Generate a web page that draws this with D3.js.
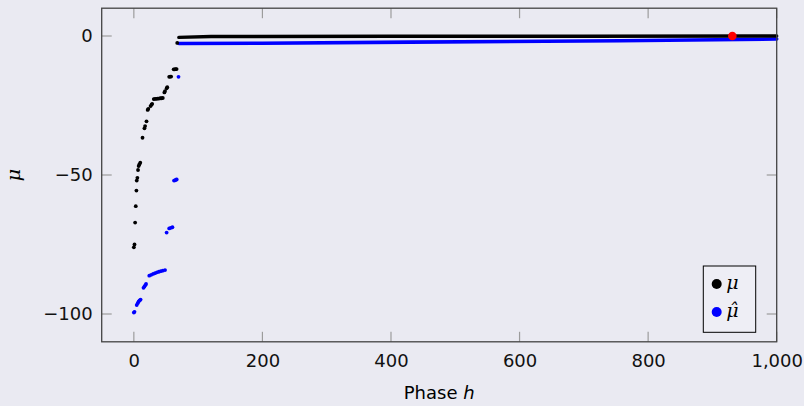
<!DOCTYPE html>
<html>
<head>
<meta charset="utf-8">
<script src="https://cdn.jsdelivr.net/npm/d3@7"></script>
<style>
  body { margin: 0; background: #eaeaf2; }
  svg { display: block; }
  .tick-label { font-family: "DejaVu Sans", sans-serif; font-size: 18px; fill: #111; }
</style>
</head>
<body>
<div id="chart"></div>
<script>
// mu (black) scatter, early phases
const muH   = [0, 1, 2, 3, 4, 4.5, 5.5, 6.5, 7.5, 8.5, 10, 13.5, 16.5, 17.5, 19.7, 21.5, 22.5, 26, 27.5, 28.5,
               31, 33, 35, 37, 39, 41, 43, 45, 47.5, 48.5, 51, 52, 55, 56.5, 58, 62, 63.5, 65, 66.5, 67.5];
const muVal = [-76, -75, -67.1, -61.2, -55.6, -52, -51, -48.2, -46.8, -46.2, -45.6, -36.6, -33.2, -32.4, -30.7, -26.6, -26.2, -25.2, -24.7, -24.4,
               -22.7, -22.6, -22.6, -22.5, -22.5, -22.4, -22.4, -22.3, -20.3, -19.8, -18.8, -18.4, -14.7, -14.6, -14.6, -12, -12, -11.9, -11.9, -2.5];

// mu-hat (blue) scatter, early phases
const muHatH   = [0, 1, 4.5, 6, 7.5, 9, 10.5, 15, 16.5, 18, 19, 24, 27, 30, 33, 36, 39, 42, 45, 48.5,
                  51, 55, 57.5, 60, 62.5, 64, 65.5, 66.7, 69.5];
const muHatVal = [-99.5, -99.2, -96.8, -96.1, -95.5, -95.1, -94.8, -90.6, -90.1, -89.6, -89.2, -86.2, -85.9, -85.6, -85.3, -85, -84.8, -84.6, -84.4, -84.2,
                  -70.7, -69.2, -69, -68.8, -52, -51.9, -51.7, -51.6, -14.7];

// dense later phases (drawn as a thick trace)
const muLineH      = [70, 120, 400, 700, 1000];
const muLineVal    = [-0.5, -0.2, -0.1, -0.1, 0];
const muHatLineH   = [70, 200, 430, 756, 1000];
const muHatLineVal = [-2.7, -2.6, -2.2, -1.7, -1.1];

const redPoint = [931, 0];

const xTicks = [0, 200, 400, 600, 800, 1000];
const yTicks = [-100, -50, 0];

const W = 804, H = 406;
const box = { left: 101.7, right: 776.7, top: 8.2, bottom: 341.8 };

const svg = d3.select('#chart').append('svg')
    .attr('width', W)
    .attr('height', H);

svg.append('rect').attr('width', W).attr('height', H).attr('fill', '#eaeaf2');

const x = d3.scaleLinear().domain([-50, 1000]).range([box.left, box.right]);
const y = d3.scaleLinear().domain([-110, 10]).range([box.bottom, box.top]);

const plotW = box.right - box.left;
const plotH = box.bottom - box.top;
const tickLen = 10;

// ticks on all four sides, pointing inward
const ticks = svg.append('g').attr('stroke', '#9c9c9c').attr('stroke-width', 1.2);
xTicks.forEach(t => {
    ticks.append('line').attr('x1', x(t)).attr('x2', x(t)).attr('y1', box.bottom).attr('y2', box.bottom - tickLen);
    ticks.append('line').attr('x1', x(t)).attr('x2', x(t)).attr('y1', box.top).attr('y2', box.top + tickLen);
});
yTicks.forEach(t => {
    ticks.append('line').attr('x1', box.left).attr('x2', box.left + tickLen).attr('y1', y(t)).attr('y2', y(t));
    ticks.append('line').attr('x1', box.right).attr('x2', box.right - tickLen).attr('y1', y(t)).attr('y2', y(t));
});

// tick labels via d3 axes, lines hidden
const fmtX = d3.format(',');
const fmtY = v => (v < 0 ? '\u2212' + Math.abs(v) : String(v));

const xAxis = svg.append('g')
    .attr('transform', `translate(0,${box.bottom})`)
    .call(d3.axisBottom(x).tickValues(xTicks).tickSize(0).tickPadding(12).tickFormat(fmtX));
xAxis.select('.domain').remove();
xAxis.selectAll('text').attr('class', 'tick-label').attr('font-size', null).attr('font-family', null);

const yAxis = svg.append('g')
    .attr('transform', `translate(${box.left},0)`)
    .call(d3.axisLeft(y).tickValues(yTicks).tickSize(0).tickPadding(9).tickFormat(fmtY));
yAxis.select('.domain').remove();
yAxis.selectAll('text').attr('class', 'tick-label').attr('font-size', null).attr('font-family', null);

// data
const g = svg.append('g');
const line = d3.line().x(d => x(d[0])).y(d => y(d[1]));

g.append('path')
    .datum(muHatLineH.map((h, i) => [h, muHatLineVal[i]]))
    .attr('d', line)
    .attr('fill', 'none')
    .attr('stroke', '#0000ff')
    .attr('stroke-width', 3.6)
    .attr('stroke-linecap', 'round');

g.append('path')
    .datum(muLineH.map((h, i) => [h, muLineVal[i]]))
    .attr('d', line)
    .attr('fill', 'none')
    .attr('stroke', '#000')
    .attr('stroke-width', 3.4)
    .attr('stroke-linecap', 'round');

g.selectAll('.mu-hat')
    .data(muHatH.map((h, i) => [h, muHatVal[i]]))
    .enter()
    .append('circle')
    .attr('class', 'mu-hat')
    .attr('cx', d => x(d[0]))
    .attr('cy', d => y(d[1]))
    .attr('r', 1.9)
    .attr('fill', '#0000ff');

g.selectAll('.mu')
    .data(muH.map((h, i) => [h, muVal[i]]))
    .enter()
    .append('circle')
    .attr('class', 'mu')
    .attr('cx', d => x(d[0]))
    .attr('cy', d => y(d[1]))
    .attr('r', 1.9)
    .attr('fill', '#000');

g.append('circle')
    .attr('cx', x(redPoint[0]))
    .attr('cy', y(redPoint[1]))
    .attr('r', 4.3)
    .attr('fill', '#ff0000');

// frame
svg.append('rect')
    .attr('x', box.left).attr('y', box.top)
    .attr('width', plotW).attr('height', plotH)
    .attr('fill', 'none')
    .attr('stroke', '#444')
    .attr('stroke-width', 1.3);

// axis titles
svg.append('text')
    .attr('transform', `translate(20,${(box.top + box.bottom) / 2}) rotate(-90)`)
    .attr('text-anchor', 'middle')
    .style('font-family', '"DejaVu Serif", serif')
    .style('font-style', 'italic')
    .style('font-size', '19px')
    .text('\u03bc');

const xt = svg.append('text')
    .attr('x', (box.left + box.right) / 2)
    .attr('y', 399)
    .attr('text-anchor', 'middle')
    .style('font-family', '"DejaVu Sans", sans-serif')
    .style('font-size', '18px');
xt.append('tspan').text('Phase ');
xt.append('tspan').style('font-style', 'italic').text('h');

// legend
const legend = svg.append('g').attr('transform', 'translate(703.3,266)');
legend.append('rect')
    .attr('width', 52.4).attr('height', 66.3)
    .attr('fill', '#eeeef5')
    .attr('stroke', '#000')
    .attr('stroke-width', 1);

const legendItems = [
    { label: '\u03bc', color: '#000' },
    { label: '\u03bc\u0302', color: '#0000ff' }
];
legendItems.forEach((d, i) => {
    const row = legend.append('g').attr('transform', `translate(0,${18 + i * 28})`);
    row.append('circle').attr('cx', 13.4).attr('cy', 0).attr('r', 5).attr('fill', d.color);
    row.append('text')
        .attr('x', 23).attr('y', 5)
        .style('font-family', '"DejaVu Serif", serif')
        .style('font-style', 'italic')
        .style('font-size', '19px')
        .text(d.label);
});
</script>
</body>
</html>
